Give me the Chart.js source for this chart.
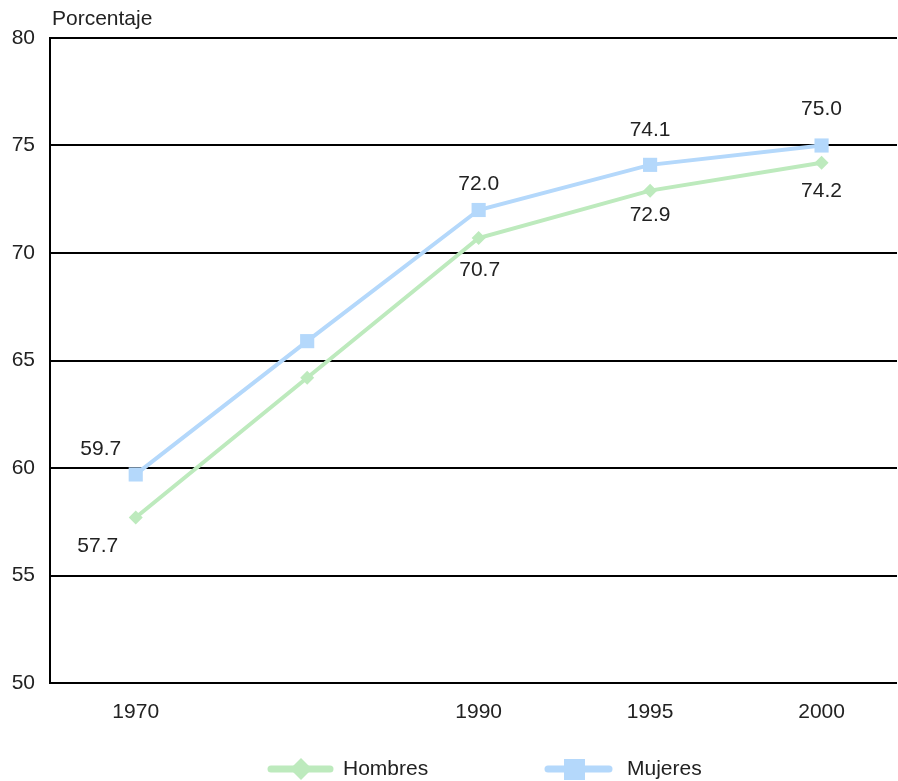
<!DOCTYPE html>
<html>
<head>
<meta charset="utf-8">
<script src="https://cdn.jsdelivr.net/npm/chart.js@4/dist/chart.umd.min.js"></script>
<style>
  html, body { margin: 0; padding: 0; background: #fff; overflow: hidden; }
  canvas { display: block; }
</style>
</head>
<body>
<canvas id="chart" width="898" height="781"></canvas>
<script>
const years = ['1970', '', '1990', '1995', '2000'];
const hombres = [57.7, 64.2, 70.7, 72.9, 74.2];
const mujeres = [59.7, 65.9, 72.0, 74.1, 75.0];
const hombresLabels = ['57.7', null, '70.7', '72.9', '74.2'];
const mujeresLabels = ['59.7', null, '72.0', '74.1', '75.0'];
const yTicks = [50, 55, 60, 65, 70, 75, 80];

const FONT = '"Liberation Sans", Arial, sans-serif';
const TEXT = '#222';
const GREEN = '#bdeabd';
const BLUE = '#b4d8fb';

// where each value label sits relative to its point
const shifts = {
  mujeres: [[-35, -25], null, [0, -26], [0, -35], [0, -36]],
  hombres: [[-38, 29], null, [1, 32], [0, 25], [0, 29]]
};

const valueLabels = {
  id: 'valueLabels',
  afterDatasetsDraw(chart) {
    const ctx = chart.ctx;
    ctx.save();
    ctx.font = '21px ' + FONT;
    ctx.fillStyle = TEXT;
    ctx.textAlign = 'center';
    ctx.textBaseline = 'middle';
    [[0, hombresLabels, shifts.hombres], [1, mujeresLabels, shifts.mujeres]].forEach(([di, labels, sh]) => {
      chart.getDatasetMeta(di).data.forEach((pt, i) => {
        if (!labels[i]) return;
        ctx.fillText(labels[i], pt.x + sh[i][0], pt.y + sh[i][1]);
      });
    });
    ctx.restore();
  }
};

const extras = {
  id: 'extras',
  afterDraw(chart) {
    const ctx = chart.ctx;
    ctx.save();
    ctx.font = '21px ' + FONT;
    ctx.fillStyle = TEXT;
    ctx.textAlign = 'left';
    ctx.textBaseline = 'middle';
    ctx.fillText('Porcentaje', chart.chartArea.left + 2, 19);

    // legend
    const ly = 769;
    ctx.lineCap = 'round';
    ctx.lineWidth = 7;
    ctx.strokeStyle = GREEN;
    ctx.beginPath(); ctx.moveTo(271, ly); ctx.lineTo(330, ly); ctx.stroke();
    ctx.fillStyle = GREEN;
    ctx.beginPath();
    ctx.moveTo(301, ly - 11); ctx.lineTo(312, ly); ctx.lineTo(301, ly + 11); ctx.lineTo(290, ly);
    ctx.closePath(); ctx.fill();
    ctx.strokeStyle = BLUE;
    ctx.beginPath(); ctx.moveTo(548, ly); ctx.lineTo(609, ly); ctx.stroke();
    ctx.fillStyle = BLUE;
    ctx.fillRect(564, ly - 10, 21, 21);

    ctx.fillStyle = TEXT;
    ctx.fillText('Hombres', 343, ly);
    ctx.fillText('Mujeres', 627, ly);
    ctx.restore();
  }
};

new Chart(document.getElementById('chart'), {
  type: 'line',
  data: {
    datasets: [
      {
        label: 'Hombres',
        data: hombres.map((v, i) => ({ x: i, y: v })),
        borderColor: GREEN,
        backgroundColor: GREEN,
        borderWidth: 4,
        pointStyle: 'rectRot',
        pointRadius: 7,
        pointBorderWidth: 0,
        tension: 0
      },
      {
        label: 'Mujeres',
        data: mujeres.map((v, i) => ({ x: i, y: v })),
        borderColor: BLUE,
        backgroundColor: BLUE,
        borderWidth: 4,
        pointStyle: 'rect',
        pointRadius: 10,
        pointBorderWidth: 0,
        tension: 0
      }
    ]
  },
  options: {
    responsive: false,
    animation: false,
    events: [],
    layout: { autoPadding: false, padding: { top: 38, right: 1, left: 0, bottom: 0 } },
    plugins: {
      legend: { display: false },
      tooltip: { enabled: false }
    },
    scales: {
      x: {
        type: 'linear',
        min: -0.5,
        max: 4.44,
        afterBuildTicks: (s) => { s.ticks = years.map((_, i) => ({ value: i })); },
        afterFit: (s) => { s.height = 98; s.paddingLeft = 0; s.paddingRight = 0; },
        grid: { display: false },
        border: { display: false },
        ticks: {
          autoSkip: false,
          maxRotation: 0,
          padding: 9,
          color: TEXT,
          font: { size: 21, family: FONT },
          callback: (v) => years[v]
        }
      },
      y: {
        min: 50,
        max: 80,
        afterBuildTicks: (s) => { s.ticks = yTicks.map(v => ({ value: v })); },
        afterFit: (s) => { s.width = 50; },
        grid: { color: '#000', lineWidth: 2, drawTicks: false },
        border: { display: true, color: '#000', width: 2 },
        ticks: {
          padding: 15,
          color: TEXT,
          font: { size: 21, family: FONT }
        }
      }
    }
  },
  plugins: [valueLabels, extras]
});
</script>
</body>
</html>
